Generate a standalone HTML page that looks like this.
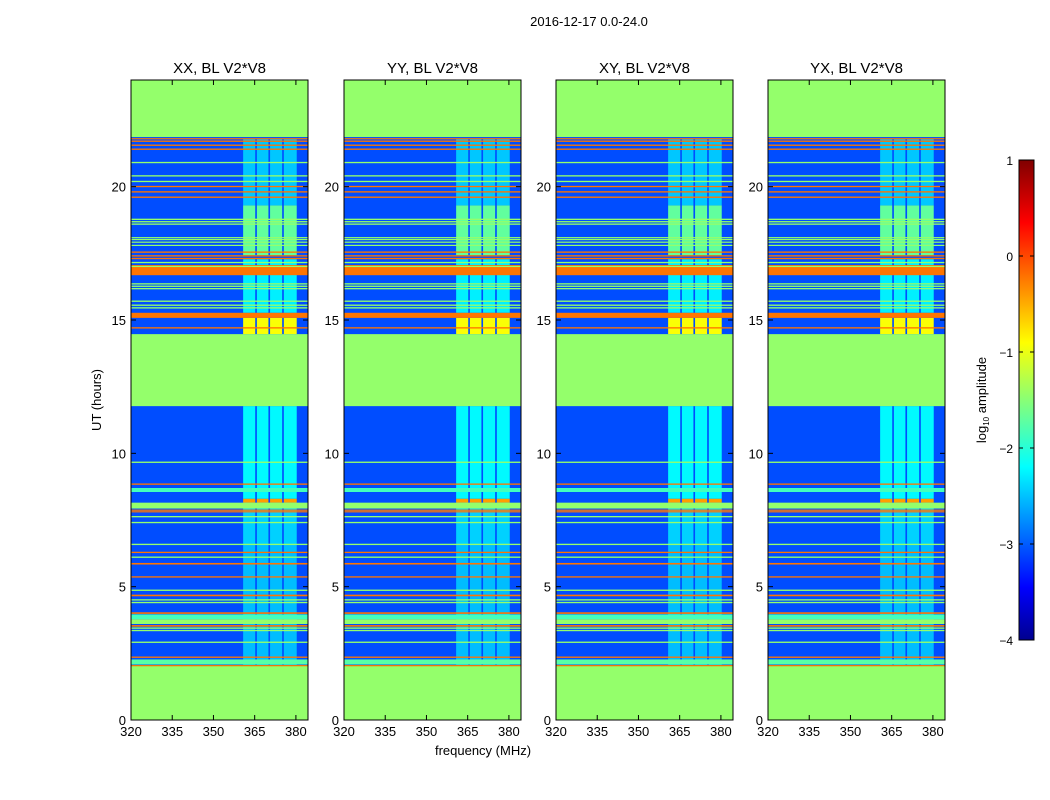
<!DOCTYPE html>
<html><head><meta charset="utf-8"><style>
body{margin:0;background:#fff;}
svg{display:block;font-family:"Liberation Sans",sans-serif;}
</style></head><body>
<svg id="fig" width="1050" height="800" viewBox="0 0 1050 800">
<defs>
<linearGradient id="jetgrad" x1="0" y1="1" x2="0" y2="0">
<stop offset="0" stop-color="#00008f"/><stop offset="0.11" stop-color="#0000ff"/>
<stop offset="0.36" stop-color="#00ffff"/><stop offset="0.62" stop-color="#ffff00"/>
<stop offset="0.87" stop-color="#ff0000"/><stop offset="1" stop-color="#800000"/>
</linearGradient>
</defs>
<text x="589" y="26" font-size="13" text-anchor="middle">2016-12-17 0.0-24.0</text>
<text x="483" y="755" font-size="13" text-anchor="middle">frequency (MHz)</text>
<text x="0" y="0" font-size="13" text-anchor="middle" transform="translate(101,400) rotate(-90)">UT (hours)</text>
<g id="panels"></g>
<g>
<rect x="1019" y="160" width="15" height="480" fill="url(#jetgrad)" stroke="#000" stroke-width="1"/>
<g id="cbticks"></g>
<text x="0" y="0" font-size="13" text-anchor="middle" transform="translate(986,400) rotate(-90)">log<tspan font-size="8" dy="3">10</tspan><tspan dy="-3"> amplitude</tspan></text>
</g>
</svg>
<script>
const panelTitles=["XX, BL V2*V8","YY, BL V2*V8","XY, BL V2*V8","YX, BL V2*V8"];
const freqTicks=[320,335,350,365,380];
const hourTicks=[0,5,10,15,20];
const cbTicks=[1,0,-1,-2,-3,-4];
const bgValue=-3.0;
// [startHour,endHour,log10 amplitude] full-width bands
const bandStart=[0,2.03,2.08,2.33,2.89,3.33,3.42,3.50,3.60,3.78,3.98,4.38,4.48,4.64,4.84,5.34,5.83,6.08,6.26,6.56,7.38,7.60,7.79,7.85,7.93,8.55,8.82,9.64,11.77,14.68,15.08,15.43,15.53,15.68,16.15,16.24,16.33,16.68,16.99,17.13,17.28,17.38,17.52,17.78,17.9,18.0,18.07,18.57,18.66,18.75,19.58,19.78,19.98,20.17,20.38,20.88,21.38,21.53,21.68,21.78,21.86];
const bandEnd=[2.03,2.06,2.27,2.38,2.94,3.38,3.47,3.56,3.78,3.96,4.04,4.43,4.53,4.70,4.89,5.39,5.89,6.13,6.31,6.61,7.43,7.65,7.83,7.89,8.15,8.70,8.87,9.69,14.47,14.73,15.27,15.48,15.58,15.73,16.20,16.29,16.38,17.06,17.03,17.18,17.33,17.43,17.57,17.82,17.94,18.04,18.11,18.62,18.71,18.80,19.63,19.83,20.03,20.22,20.43,20.93,21.43,21.58,21.73,21.82,24];
const bandValue=[-1.4,-0.2,-1.7,-0.2,-1.4,-1.4,-1.4,-0.2,-1.4,-1.8,-0.2,-1.4,-1.4,-0.2,-1.4,-0.2,-0.2,-1.4,-0.2,-1.4,-1.4,-1.4,-0.2,-0.2,-1.4,-1.8,-0.2,-1.4,-1.4,-0.2,-0.2,-1.4,-1.4,-1.4,-1.4,-1.4,-1.4,-0.2,-1.4,-1.4,-0.2,-0.2,-0.2,-1.4,-1.4,-1.4,-1.4,-1.4,-1.4,-1.4,-0.2,-0.2,-0.2,-1.4,-1.4,-1.4,-0.2,-0.2,-0.2,-0.2,-1.4];
// bright RFI columns (MHz)
const colStart=[360.8,365.8,370.6,375.6];
const colEnd=[365.2,370.0,375.0,380.3];
// column brightness by hour range
const colLevStart=[2.06,6.6,8.15,8.3,14.47,15.27,17.43,19.3];
const colLevEnd=[6.6,8.15,8.3,11.77,15.08,17.28,19.3,21.78];
const colLevValue=[-2.45,-2.35,-0.4,-2.15,-0.9,-2.2,-1.65,-2.4];
const panelX=[131,344,556,768];
const PW=177,PT=80,PB=720,F0=320,F1=384.4,H1=24;

function jet(v){const t=(v+4)/5;const c=x=>Math.round(255*Math.max(0,Math.min(1,x)));
return `rgb(${c(1.5-Math.abs(4*t-3))},${c(1.5-Math.abs(4*t-2))},${c(1.5-Math.abs(4*t-1))})`;}
const NS="http://www.w3.org/2000/svg";
function mk(tag,attrs,parent){const e=document.createElementNS(NS,tag);for(const k in attrs)e.setAttribute(k,attrs[k]);parent.appendChild(e);return e;}
const yS=h=>PB-(h/H1)*(PB-PT);
const root=document.getElementById('panels');
panelX.forEach((px,pi)=>{
  const xS=f=>px+(f-F0)/(F1-F0)*PW;
  const g=mk('g',{},root);
  
  
  const bg=mk('rect',{x:px,y:PT,width:PW,height:PB-PT,fill:jet(bgValue)},g);
  
  
  colStart.forEach((cs,ci)=>{
    colLevStart.forEach((ls,li)=>{
      const r=mk('rect',{x:xS(cs),y:yS(colLevEnd[li]),width:xS(colEnd[ci])-xS(cs),height:yS(ls)-yS(colLevEnd[li]),fill:jet(colLevValue[li])},g);
      
      
    });
  });
  bandStart.forEach((bs,bi)=>{
    const r=mk('rect',{x:px,y:yS(bandEnd[bi]),width:PW,height:Math.max(1.2,yS(bs)-yS(bandEnd[bi])),fill:jet(bandValue[bi])},g);
    
    
  });
  mk('rect',{x:px,y:PT,width:PW,height:PB-PT,fill:'none',stroke:'#000','stroke-width':1},g);
  const t=mk('text',{x:px+PW/2,y:PT-7,'font-size':15,'text-anchor':'middle'},g);
  t.textContent=panelTitles[pi];
  
  
  freqTicks.forEach(f=>{
    const x=xS(f);
    mk('line',{x1:x,x2:x,y1:PB,y2:PB-5,stroke:'#000'},g);
    mk('line',{x1:x,x2:x,y1:PT,y2:PT+5,stroke:'#000'},g);
    const l=mk('text',{x:x,y:PB+16,'font-size':13,'text-anchor':'middle'},g);
    l.textContent=f;
    
    
  });
  hourTicks.forEach(h=>{
    const y=yS(h);
    mk('line',{x1:px,x2:px+5,y1:y,y2:y,stroke:'#000'},g);
    mk('line',{x1:px+PW,x2:px+PW-5,y1:y,y2:y,stroke:'#000'},g);
    const l=mk('text',{x:px-5,y:y+5,'font-size':13,'text-anchor':'end'},g);
    l.textContent=h;
    
    
  });
});
const cb=document.getElementById('cbticks');
cbTicks.forEach(v=>{
  const y=640-(v+4)/5*480;
  mk('line',{x1:1019,x2:1023,y1:y,y2:y,stroke:'#000'},cb);
  mk('line',{x1:1034,x2:1030,y1:y,y2:y,stroke:'#000'},cb);
  const l=mk('text',{x:1013,y:y+5,'font-size':12,'text-anchor':'end'},cb);
  l.textContent=v<0?'\u2212'+(-v):v;
  
  
});
</script>
</body></html>
